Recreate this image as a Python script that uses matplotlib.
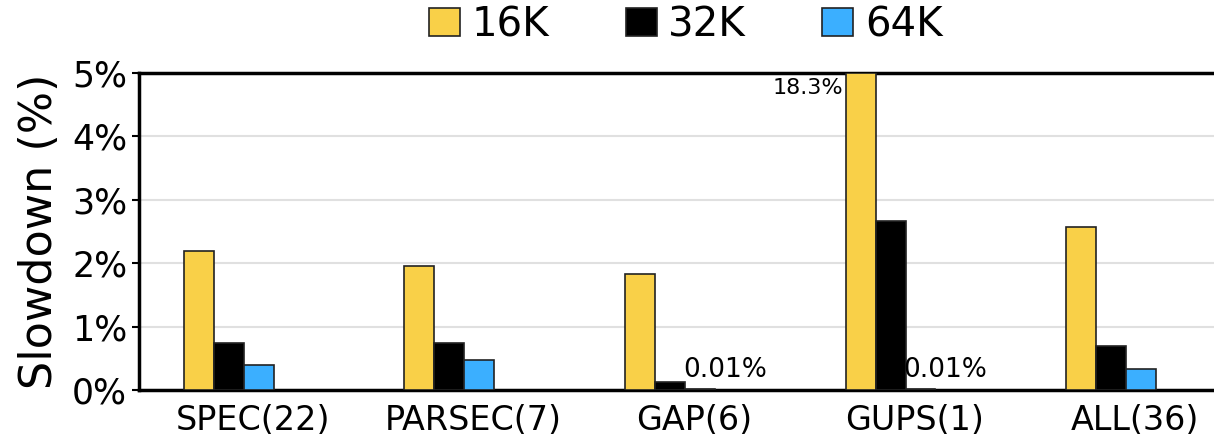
import numpy as np
import matplotlib.pyplot as plt

groups = ["SPEC(22)", "PARSEC(7)", "GAP(6)", "GUPS(1)", "ALL(36)"]
series = ["16K", "32K", "64K"]
slow_16k = [2.19, 1.96, 1.83, 18.3, 2.57]
slow_32k = [0.74, 0.74, 0.13, 2.67, 0.69]
slow_64k = [0.39, 0.47, 0.01, 0.01, 0.33]
colors = ["#F9D048", "#000000", "#3BAFFF"]

YMAX = 5.0
w = 0.136


def main():
    fig = plt.figure(figsize=(12.14, 4.43), dpi=100)
    ax = fig.add_axes([0.1145, 0.1196, 0.8855, 0.7154])

    x = np.arange(len(groups))
    data = [slow_16k, slow_32k, slow_64k]
    for i, (name, vals, c) in enumerate(zip(series, data, colors)):
        shown = np.minimum(vals, YMAX)
        ax.bar(x + (i - 1) * w, shown, w, color=c, edgecolor="#222222",
               linewidth=1.2, label=name, zorder=3)

    # values that fall outside / near zero get a text label
    ax.text(x[3] - 1.5 * w - 0.01, YMAX - 0.08, f"{slow_16k[3]:.1f}%",
            ha="right", va="top", fontsize=16, zorder=4)
    for g in (2, 3):
        ax.text(x[g] + 0.5 * w - 0.01, slow_64k[g] + 0.1, f"{slow_64k[g]:.2f}%",
                ha="left", va="bottom", fontsize=19, zorder=4)

    ax.set_xlim(-0.408, 4.467)
    ax.set_ylim(0, YMAX)
    ax.set_yticks(np.arange(0, 6))
    ax.set_yticklabels([f"{v}%" for v in range(6)], fontsize=25)
    ax.set_xticks(x + 0.11)
    ax.set_xticklabels(groups, fontsize=24)
    ax.tick_params(axis="x", length=0, pad=10)
    ax.tick_params(axis="y", length=5, width=1.5)
    ax.set_ylabel("Slowdown (%)", fontsize=32, labelpad=8)
    ax.yaxis.grid(True, color="#e0e0e0", linewidth=1.5, zorder=0)
    ax.set_axisbelow(True)

    for s in ("left", "top", "bottom"):
        ax.spines[s].set_linewidth(2.5)
    ax.spines["right"].set_visible(False)

    fig.legend(loc="center", bbox_to_anchor=(0.565, 0.943), ncol=3,
               frameon=False, fontsize=29, handlelength=0.77, handleheight=0.67,
               columnspacing=1.9, handletextpad=0.28)

    fig.savefig("out.png", dpi=100)


if __name__ == "__main__":
    main()
